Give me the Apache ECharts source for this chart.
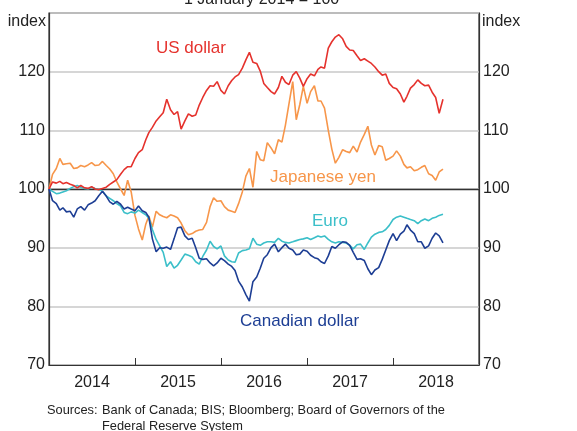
<!DOCTYPE html>
<html>
<head>
<meta charset="utf-8">
<script src="https://cdn.jsdelivr.net/npm/echarts@6/dist/echarts.min.js"></script>
<style>
  html, body { margin: 0; padding: 0; background: #fff; }
  #chart { width: 577px; height: 431px; }
</style>
</head>
<body>
<div id="chart"></div>
<script>
// half-monthly observations, 1 January 2014 = 100
const dates = [
  '2014-01-01','2014-01-16','2014-02-01','2014-02-16','2014-03-01','2014-03-16','2014-04-01','2014-04-16',
  '2014-05-01','2014-05-16','2014-06-01','2014-06-16','2014-07-01','2014-07-16','2014-08-01','2014-08-16',
  '2014-09-01','2014-09-16','2014-10-01','2014-10-16','2014-11-01','2014-11-16','2014-12-01','2014-12-16',
  '2015-01-01','2015-01-16','2015-02-01','2015-02-16','2015-03-01','2015-03-16','2015-04-01','2015-04-16',
  '2015-05-01','2015-05-16','2015-06-01','2015-06-16','2015-07-01','2015-07-16','2015-08-01','2015-08-16',
  '2015-09-01','2015-09-16','2015-10-01','2015-10-16','2015-11-01','2015-11-16','2015-12-01','2015-12-16',
  '2016-01-01','2016-01-16','2016-02-01','2016-02-16','2016-03-01','2016-03-16','2016-04-01','2016-04-16',
  '2016-05-01','2016-05-16','2016-06-01','2016-06-16','2016-07-01','2016-07-16','2016-08-01','2016-08-16',
  '2016-09-01','2016-09-16','2016-10-01','2016-10-16','2016-11-01','2016-11-16','2016-12-01','2016-12-16',
  '2017-01-01','2017-01-16','2017-02-01','2017-02-16','2017-03-01','2017-03-16','2017-04-01','2017-04-16',
  '2017-05-01','2017-05-16','2017-06-01','2017-06-16','2017-07-01','2017-07-16','2017-08-01','2017-08-16',
  '2017-09-01','2017-09-16','2017-10-01','2017-10-16','2017-11-01','2017-11-16','2017-12-01','2017-12-16',
  '2018-01-01','2018-01-16','2018-02-01','2018-02-16','2018-03-01','2018-03-16','2018-04-01','2018-04-16',
  '2018-05-01','2018-05-16','2018-06-01','2018-06-16','2018-07-01','2018-07-16','2018-08-01'
];

const usDollar = [
  100.0,101.2,101.0,101.3,100.9,101.1,100.8,100.6,100.2,100.6,100.2,100.1,100.4,100.0,99.9,100.1,
  100.3,100.8,101.2,101.6,102.5,103.3,103.8,103.8,105.2,106.2,106.7,108.4,109.6,110.5,111.6,112.3,
  113.0,115.3,113.5,112.7,113.2,110.2,111.6,112.8,112.4,112.6,114.3,115.6,116.8,117.6,117.5,118.3,
  116.8,116.2,117.6,118.5,119.1,119.5,120.6,122.0,123.3,121.6,121.4,120.1,118.0,117.3,116.6,116.2,
  117.3,119.2,118.2,117.8,119.4,120.0,118.9,117.5,118.8,119.6,119.3,120.4,120.8,120.6,124.0,125.1,
  125.9,126.3,125.6,124.3,123.7,123.6,122.7,121.9,122.2,121.8,121.4,120.8,120.0,119.4,119.6,118.0,
  117.3,117.1,116.2,114.8,115.8,117.2,117.8,118.6,118.0,117.6,117.7,116.5,115.6,112.9,115.3
];

const japaneseYen = [
  100.0,102.5,103.5,105.2,104.2,104.3,104.4,103.5,103.6,104.0,103.8,104.1,104.5,104.0,104.1,104.7,
  104.0,103.4,102.6,101.2,100.0,98.9,101.5,99.5,95.5,93.2,91.3,94.0,95.4,93.5,96.2,95.6,
  95.3,95.1,95.6,95.4,95.1,94.2,92.9,92.2,92.4,92.8,93.0,93.1,94.3,97.0,98.5,97.9,
  98.0,97.0,96.4,96.2,96.0,97.5,99.5,102.2,103.5,100.3,106.4,105.0,104.8,107.9,107.0,106.0,
  108.4,108.0,110.9,114.5,118.3,111.8,114.4,117.5,114.6,116.6,117.6,115.0,115.0,113.8,110.0,106.8,
  104.4,105.4,106.7,106.4,106.2,107.3,106.3,108.0,109.3,110.7,107.5,105.8,107.4,107.2,104.9,105.2,
  105.6,106.5,105.6,104.2,103.6,103.8,103.1,103.3,103.7,104.0,102.6,102.3,101.5,102.9,103.4
];

const euro = [
  100.0,99.6,99.2,99.3,99.5,99.7,100.1,100.4,100.6,100.3,100.1,100.0,100.3,100.1,99.9,99.6,
  98.8,98.4,98.0,97.5,97.1,96.0,95.8,96.1,95.9,96.4,96.0,95.6,95.0,93.1,91.4,90.3,
  89.2,86.8,87.6,86.5,87.0,87.9,88.9,88.7,88.4,87.6,87.2,88.5,89.6,91.1,90.2,89.8,
  90.3,88.6,87.9,87.6,87.5,89.1,89.5,89.6,89.8,91.6,90.6,90.4,90.8,91.0,91.0,90.9,
  91.6,91.1,90.9,90.8,91.0,91.2,91.4,91.5,91.7,91.4,91.7,92.0,91.8,92.0,91.4,91.0,
  90.8,91.0,90.9,90.8,90.4,89.8,90.5,90.6,89.7,90.8,91.8,92.3,92.6,92.7,93.1,93.8,
  94.8,95.2,95.4,95.2,95.0,94.8,94.6,94.1,94.6,94.9,94.6,95.0,95.2,95.5,95.7
];

const canadianDollar = [
  100.0,98.0,97.5,96.4,96.8,96.1,96.2,95.2,96.6,97.0,96.4,97.3,97.6,98.0,98.9,99.6,
  98.8,97.8,97.4,97.9,97.4,96.6,96.9,96.6,96.3,97.1,96.3,96.0,95.2,91.5,89.3,90.0,
  89.9,90.1,89.7,91.5,93.4,93.5,92.0,91.4,91.6,90.0,88.2,88.0,88.1,87.4,86.9,87.4,
  88.2,87.8,87.2,86.8,86.1,84.3,83.3,82.0,80.9,84.2,85.0,86.5,88.2,88.8,90.0,90.6,
  89.3,90.0,90.6,89.9,89.6,88.8,88.9,89.6,89.4,88.7,88.3,88.1,87.6,87.3,88.6,90.2,
  89.9,90.5,91.0,90.9,90.4,89.2,88.0,88.1,87.8,86.4,85.4,86.2,86.6,88.0,89.6,91.2,
  92.4,91.2,92.3,92.8,93.9,93.0,92.4,91.0,91.0,89.9,90.3,91.6,92.5,92.0,90.8
];

const yearLabels = ['2014', '2015', '2016', '2017', '2018'];

const colors = {
  usd: '#e5322d',
  jpy: '#f7964a',
  eur: '#3bbfc9',
  cad: '#1d3e94'
};

const font = '"Liberation Sans", Arial, sans-serif';

function pairs(vals) {
  return vals.map((v, i) => [dates[i], v]);
}

function line(name, vals, color, extra) {
  return Object.assign({
    name: name,
    type: 'line',
    xAxisIndex: 0,
    yAxisIndex: 0,
    data: pairs(vals),
    symbol: 'none',
    smooth: false,
    lineStyle: { color: color, width: 1.6 },
    itemStyle: { color: color },
    z: 3
  }, extra || {});
}

const chart = echarts.init(document.getElementById('chart'), null, { renderer: 'canvas' });

chart.setOption({
  animation: false,
  backgroundColor: '#fff',
  grid: {
    left: 49, right: 98, top: 13, bottom: 66,
    show: true, borderColor: '#333', borderWidth: 1.2,
    containLabel: false
  },
  xAxis: [
    {
      type: 'time',
      min: '2014-01-01',
      max: '2019-01-01',
      show: false
    },
    {
      type: 'category',
      data: yearLabels,
      position: 'bottom',
      boundaryGap: true,
      axisLine: { show: true, lineStyle: { color: '#333', width: 1.2 } },
      axisTick: { show: true, inside: true, length: 7, lineStyle: { color: '#333', width: 1 } },
      axisLabel: { color: '#222', fontSize: 16, fontFamily: font, margin: 10 },
      splitLine: { show: false }
    }
  ],
  yAxis: [
    {
      type: 'value',
      min: 70, max: 130, interval: 10,
      position: 'left',
      axisLine: { show: true, lineStyle: { color: '#333', width: 1.2 } },
      axisTick: { show: false },
      axisLabel: {
        color: '#222', fontSize: 16, fontFamily: font, margin: 4,
        formatter: v => (v === 130 ? '' : String(v))
      },
      splitLine: { show: true, lineStyle: { color: '#c8c8c8', width: 1.5 } }
    },
    {
      type: 'value',
      min: 70, max: 130, interval: 10,
      position: 'right',
      axisLine: { show: true, lineStyle: { color: '#333', width: 1.2 } },
      axisTick: { show: false },
      axisLabel: {
        color: '#222', fontSize: 16, fontFamily: font, margin: 4,
        formatter: v => (v === 130 ? '' : String(v))
      },
      splitLine: { show: false }
    }
  ],
  series: [
    line('Japanese yen', japaneseYen, colors.jpy, {
      markLine: {
        silent: true,
        symbol: 'none',
        label: { show: false },
        lineStyle: { color: '#333', width: 1.3, type: 'solid' },
        data: [{ yAxis: 100 }],
        z: 2
      }
    }),
    line('Euro', euro, colors.eur),
    line('Canadian dollar', canadianDollar, colors.cad),
    line('US dollar', usDollar, colors.usd)
  ],
  graphic: [
    { type: 'text', left: 264 - 80, top: -8, style: { text: '1 January 2014 = 100', font: '16px ' + font, fill: '#222' } },
    { type: 'text', x: 46, y: 22, style: { text: 'index', font: '16px ' + font, fill: '#222', textAlign: 'right', textVerticalAlign: 'middle' } },
    { type: 'text', x: 482, y: 22, style: { text: 'index', font: '16px ' + font, fill: '#222', textAlign: 'left', textVerticalAlign: 'middle' } },
    { type: 'text', x: 156, y: 48, style: { text: 'US dollar', font: '17px ' + font, fill: colors.usd, textVerticalAlign: 'middle' } },
    { type: 'text', x: 270, y: 177, style: { text: 'Japanese yen', font: '17px ' + font, fill: colors.jpy, textVerticalAlign: 'middle' } },
    { type: 'text', x: 312, y: 221, style: { text: 'Euro', font: '17px ' + font, fill: colors.eur, textVerticalAlign: 'middle' } },
    { type: 'text', x: 240, y: 321, style: { text: 'Canadian dollar', font: '17px ' + font, fill: colors.cad, textVerticalAlign: 'middle' } },
    { type: 'text', x: 47, y: 410, style: { text: 'Sources:', font: '12.8px ' + font, fill: '#222', textVerticalAlign: 'middle' } },
    { type: 'text', x: 102, y: 410, style: { text: 'Bank of Canada; BIS; Bloomberg; Board of Governors of the', font: '12.8px ' + font, fill: '#222', textVerticalAlign: 'middle' } },
    { type: 'text', x: 102, y: 426, style: { text: 'Federal Reserve System', font: '12.8px ' + font, fill: '#222', textVerticalAlign: 'middle' } }
  ]
});
</script>
</body>
</html>
